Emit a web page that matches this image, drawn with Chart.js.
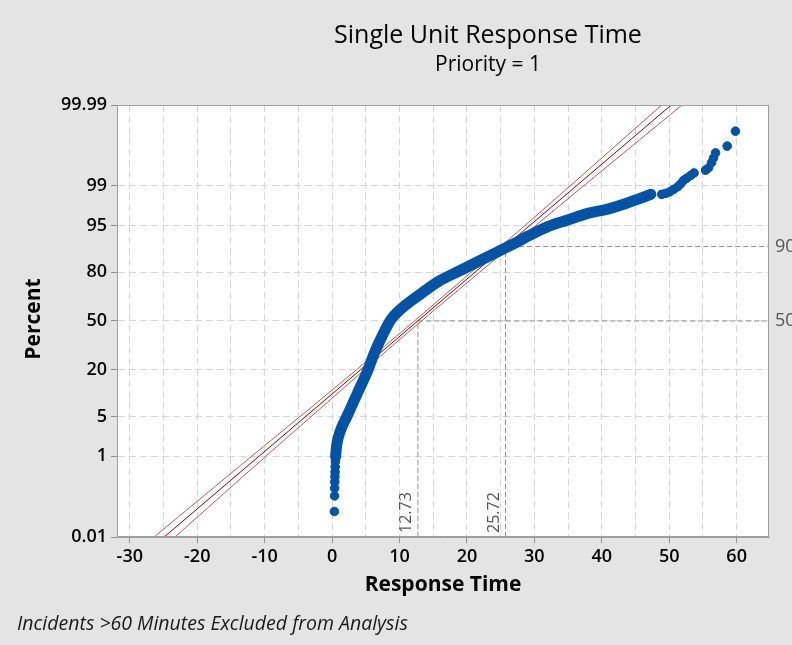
<!DOCTYPE html>
<html>
<head>
<meta charset="utf-8">
<script src="https://cdn.jsdelivr.net/npm/chart.js@4.4.1/dist/chart.umd.min.js"></script>
<style>
  html, body { margin: 0; padding: 0; background: #e4e4e4; }
</style>
</head>
<body>
<canvas id="probChart" width="792" height="645"></canvas>
<script>
// percent axis ticks (probability scale)
const percentTicks = [0.01, 1, 5, 20, 50, 80, 95, 99, 99.99];
const percentLabels = ['0.01', '1', '5', '20', '50', '80', '95', '99', '99.99'];
const xTicks = [-30, -25, -20, -15, -10, -5, 0, 5, 10, 15, 20, 25, 30, 35, 40, 45, 50, 55, 60];

// lower tail of the sample (stacked dots near 0)
const tailLowX = [0.34, 0.36, 0.38, 0.40, 0.42, 0.44, 0.46, 0.50];
const tailLowP = [0.052, 0.13, 0.20, 0.28, 0.37, 0.47, 0.60, 0.78];

// dense middle of the sample
const bandX = [0.52, 0.66, 0.96, 1.48, 2.22, 3.10, 3.99, 4.68, 5.32, 6.28, 7.39, 8.71, 9.6, 10.64, 13.29, 15.76, 18.71, 21.67, 24.62, 26.10, 28.06, 29.05, 32.0, 34.96, 37.92, 40.87, 43.82, 45.79, 47.27];
const bandP = [0.97, 1.54, 2.34, 3.47, 5.08, 7.9, 11.8, 15.6, 20.0, 29.2, 39.5, 50.8, 55.6, 59.9, 68.4, 75.2, 80.3, 84.7, 88.4, 90.0, 91.9, 92.8, 94.8, 95.9, 96.8, 97.3, 97.9, 98.28, 98.54];

// upper tail (separate dots)
const tailHighX = [48.89, 49.48, 50.07, 50.66, 51.26, 51.70, 52.14, 52.58, 53.18, 53.69, 55.39, 55.83, 56.28, 56.57, 56.87, 58.60, 59.82];
const tailHighP = [98.54, 98.60, 98.69, 98.83, 98.96, 99.09, 99.23, 99.30, 99.39, 99.46, 99.53, 99.58, 99.68, 99.75, 99.81, 99.87, 99.946];

// fitted normal line and confidence bounds
const fitX = [-24.9, 50.3];
const fitP = [0.01, 99.99];
const boundP = [0.01, 1, 5, 20, 50, 80, 95, 99, 99.99];
const lowerX = [-26.4, -11.9, -4.75, 3.6, 12.2, 20.65, 28.6, 35.3, 48.9];
const upperX = [-23.3, -9.8, -3.1, 4.8, 13.25, 21.9, 30.2, 37.3, 51.9];

// reference lines
const refX = [12.73, 25.72];
const refP = [50, 90];

const xMin = -31.9, xMax = 64.8;
const FONT = "'Segoe UI', 'Open Sans', sans-serif";

// inverse normal CDF (Acklam) for the probability axis
function probit(pct) {
  const p = pct / 100;
  const a = [-3.969683028665376e+01, 2.209460984245205e+02, -2.759285104469687e+02, 1.383577518672690e+02, -3.066479806614716e+01, 2.506628277459239e+00];
  const b = [-5.447609879822406e+01, 1.615858368580409e+02, -1.556989798598866e+02, 6.680131188771972e+01, -1.328068155288572e+01];
  const c = [-7.784894002430293e-03, -3.223964580411365e-01, -2.400758277161838e+00, -2.549732539343734e+00, 4.374664141464968e+00, 2.938163982698783e+00];
  const d = [7.784695709041462e-03, 3.224671290700398e-01, 2.445134137142996e+00, 3.754408661907416e+00];
  const plow = 0.02425;
  let q, r;
  if (p < plow) {
    q = Math.sqrt(-2 * Math.log(p));
    return (((((c[0]*q+c[1])*q+c[2])*q+c[3])*q+c[4])*q+c[5]) / ((((d[0]*q+d[1])*q+d[2])*q+d[3])*q+1);
  }
  if (p > 1 - plow) {
    q = Math.sqrt(-2 * Math.log(1 - p));
    return -(((((c[0]*q+c[1])*q+c[2])*q+c[3])*q+c[4])*q+c[5]) / ((((d[0]*q+d[1])*q+d[2])*q+d[3])*q+1);
  }
  q = p - 0.5; r = q * q;
  return (((((a[0]*r+a[1])*r+a[2])*r+a[3])*r+a[4])*r+a[5])*q / (((((b[0]*r+b[1])*r+b[2])*r+b[3])*r+b[4])*r+1);
}

const toPoints = (xs, ps) => xs.map((x, i) => ({ x: x, y: probit(ps[i]) }));
const zMin = probit(percentTicks[0]);
const zMax = probit(percentTicks[percentTicks.length - 1]);

function refLine(i) {
  return [
    { x: refX[i], y: zMin },
    { x: refX[i], y: probit(refP[i]) },
    { x: xMax, y: probit(refP[i]) }
  ];
}

// background, frame and all the free text
const decorations = {
  id: 'decorations',
  beforeDraw(chart) {
    const { ctx, chartArea: a } = chart;
    ctx.save();
    ctx.fillStyle = '#e4e4e4';
    ctx.fillRect(0, 0, chart.width, chart.height);
    ctx.fillStyle = '#ffffff';
    ctx.fillRect(a.left, a.top, a.right - a.left, a.bottom - a.top);
    ctx.restore();
  },
  afterDraw(chart) {
    const { ctx, chartArea: a, scales: { x, y } } = chart;
    ctx.save();
    ctx.strokeStyle = '#a0a0a0';
    ctx.lineWidth = 1;
    ctx.strokeRect(a.left + 0.5, a.top + 0.5, a.right - a.left - 1, a.bottom - a.top - 1);

    ctx.fillStyle = '#000';
    ctx.textAlign = 'center';
    ctx.textBaseline = 'alphabetic';
    ctx.font = '500 25px ' + FONT;
    ctx.fillText('Single Unit Response Time', 488, 43);
    ctx.font = '500 21px ' + FONT;
    ctx.fillText('Priority = 1', 488, 71);

    ctx.font = 'bold 21px ' + FONT;
    ctx.fillText('Response Time', (a.left + a.right) / 2, 591);

    ctx.save();
    ctx.translate(40, (a.top + a.bottom) / 2 - 2);
    ctx.rotate(-Math.PI / 2);
    ctx.fillText('Percent', 0, 0);
    ctx.restore();

    ctx.textAlign = 'left';
    ctx.font = 'italic 19.5px ' + FONT;
    ctx.fillStyle = '#1a1a1a';
    ctx.fillText('Incidents >60 Minutes Excluded from Analysis', 17, 630);

    // reference labels
    ctx.fillStyle = '#555';
    ctx.font = '18px ' + FONT;
    ctx.textBaseline = 'middle';
    refP.forEach(p => {
      ctx.fillText(String(p), a.right + 6, y.getPixelForValue(probit(p)));
    });
    ctx.font = '16px ' + FONT;
    refX.forEach(v => {
      ctx.save();
      ctx.translate(x.getPixelForValue(v) - 11, a.bottom - 4);
      ctx.rotate(-Math.PI / 2);
      ctx.fillText(v.toFixed(2), 0, 0);
      ctx.restore();
    });
    ctx.restore();
  }
};

const blue = '#0153a5';

new Chart(document.getElementById('probChart'), {
  type: 'scatter',
  data: {
    datasets: [
      {
        data: toPoints(bandX, bandP),
        showLine: true,
        borderColor: blue,
        borderWidth: 11,
        borderCapStyle: 'round',
        borderJoinStyle: 'round',
        cubicInterpolationMode: 'monotone',
        pointRadius: 0,
        order: 0
      },
      {
        data: toPoints(tailLowX, tailLowP),
        backgroundColor: blue,
        borderColor: blue,
        pointRadius: 4.3,
        order: 0
      },
      {
        data: toPoints(tailHighX, tailHighP),
        backgroundColor: blue,
        borderColor: blue,
        pointRadius: 4.3,
        order: 0
      },
      {
        data: toPoints(fitX, fitP),
        showLine: true,
        borderColor: '#9a0000',
        borderWidth: 1,
        pointRadius: 0,
        order: 1
      },
      {
        data: toPoints(lowerX, boundP),
        showLine: true,
        borderColor: '#c05858',
        borderWidth: 1,
        tension: 0.3,
        pointRadius: 0,
        order: 1
      },
      {
        data: toPoints(upperX, boundP),
        showLine: true,
        borderColor: '#c05858',
        borderWidth: 1,
        tension: 0.3,
        pointRadius: 0,
        order: 1
      },
      {
        data: refLine(0),
        showLine: true,
        borderColor: '#909090',
        borderWidth: 1,
        borderDash: [5, 3],
        pointRadius: 0,
        order: 2
      },
      {
        data: refLine(1),
        showLine: true,
        borderColor: '#909090',
        borderWidth: 1,
        borderDash: [5, 3],
        pointRadius: 0,
        order: 2
      }
    ]
  },
  options: {
    responsive: false,
    animation: false,
    devicePixelRatio: 1,
    layout: { padding: { top: 105, right: 23, bottom: 78, left: 0 } },
    plugins: {
      legend: { display: false },
      tooltip: { enabled: false }
    },
    scales: {
      x: {
        type: 'linear',
        min: xMin,
        max: xMax,
        afterBuildTicks: s => { s.ticks = xTicks.map(v => ({ value: v })); },
        afterFit: s => { s.height = 30; },
        ticks: {
          autoSkip: false,
          maxRotation: 0,
          padding: 3,
          color: '#000',
          font: { family: FONT, size: 18, weight: '600' },
          callback: v => (v % 10 === 0 ? String(v) : '')
        },
        grid: {
          color: '#d6d6d6',
          lineWidth: 1,
          tickLength: 6,
          tickColor: c => (c.tick && c.tick.value % 10 === 0 ? '#909090' : 'rgba(0,0,0,0)'),
          tickBorderDash: []
        },
        border: { display: true, color: '#a0a0a0', width: 1, dash: [7, 4] }
      },
      y: {
        type: 'linear',
        min: zMin,
        max: zMax,
        afterBuildTicks: s => { s.ticks = percentTicks.map(p => ({ value: probit(p) })); },
        afterFit: s => { s.width = 117; },
        ticks: {
          autoSkip: false,
          padding: 4,
          color: '#000',
          font: { family: FONT, size: 18, weight: '600' },
          callback: (v, i) => percentLabels[i]
        },
        grid: {
          color: c => (c.index === 0 || c.index === percentTicks.length - 1 ? 'rgba(0,0,0,0)' : '#d6d6d6'),
          lineWidth: 1,
          tickLength: 6,
          tickColor: '#909090',
          tickBorderDash: []
        },
        border: { display: true, color: '#a0a0a0', width: 1, dash: [7, 4] }
      }
    }
  },
  plugins: [decorations]
});
</script>
</body>
</html>
